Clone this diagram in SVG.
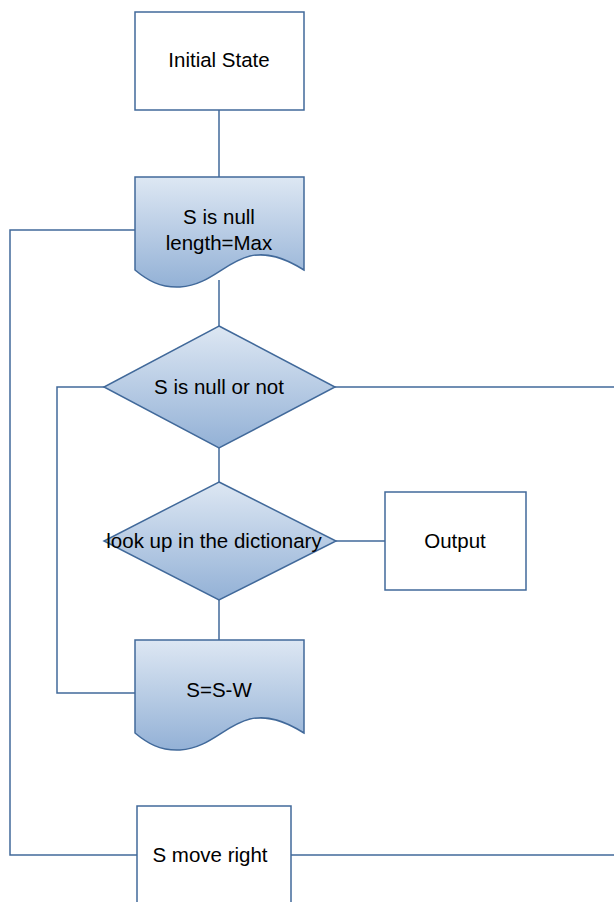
<svg xmlns="http://www.w3.org/2000/svg" width="614" height="902" viewBox="0 0 614 902">
<style>
.box{fill:#fff;stroke:#41699a;stroke-width:1.5}
.shade{fill:url(#g);stroke:#41699a;stroke-width:1.5}
.ln{fill:none;stroke:#41699a;stroke-width:1.5}
text{font-family:"Liberation Sans",Arial,sans-serif;font-size:20.5px;fill:#000;text-anchor:middle}
</style>
<defs>
<linearGradient id="g" x1="0" y1="0" x2="0" y2="1">
<stop offset="0" stop-color="#dde7f3"/>
<stop offset="1" stop-color="#93b1d6"/>
</linearGradient>
</defs>
<g id="connectors">
<path class="ln" d="M219,110 V177"/>
<path class="ln" d="M219,280 V326"/>
<path class="ln" d="M335,387 H614"/>
<path class="ln" d="M104,387 H57 V693 H135"/>
<path class="ln" d="M219,448 V482"/>
<path class="ln" d="M336,541 H385"/>
<path class="ln" d="M219,600 V640"/>
<path class="ln" d="M135,230 H10 V855 H137"/>
<path class="ln" d="M291,855 H614"/>
</g>
<g id="initial">
<rect class="box" x="135" y="12" width="169" height="98"/>
<text x="219" y="67">Initial State</text>
</g>
<g id="doc1">
<path class="shade" d="M135,177 H304 V270 C285,258 268,252 250,256 C225,262 210,285 180,287 C160,288 147,280 135,270 Z"/>
<text x="219" y="224">S is null</text>
<text x="219" y="250">length=Max</text>
</g>
<g id="decision1">
<path class="shade" d="M219,326 L335,387 L219,448 L104,387 Z"/>
<text x="219" y="394">S is null or not</text>
</g>
<g id="decision2">
<path class="shade" d="M219,482 L336,541 L219,600 L104,541 Z"/>
<text x="214" y="548">look up in the dictionary</text>
</g>
<g id="output">
<rect class="box" x="385" y="492" width="141" height="98"/>
<text x="455" y="548">Output</text>
</g>
<g id="doc2">
<path class="shade" d="M135,640 H304 V733 C285,721 268,715 250,719 C225,725 210,748 180,750 C160,751 147,743 135,733 Z"/>
<text x="219" y="697">S=S-W</text>
</g>
<g id="moveright">
<rect class="box" x="137" y="806" width="154" height="110"/>
<text x="210" y="862">S move right</text>
</g>
</svg>
